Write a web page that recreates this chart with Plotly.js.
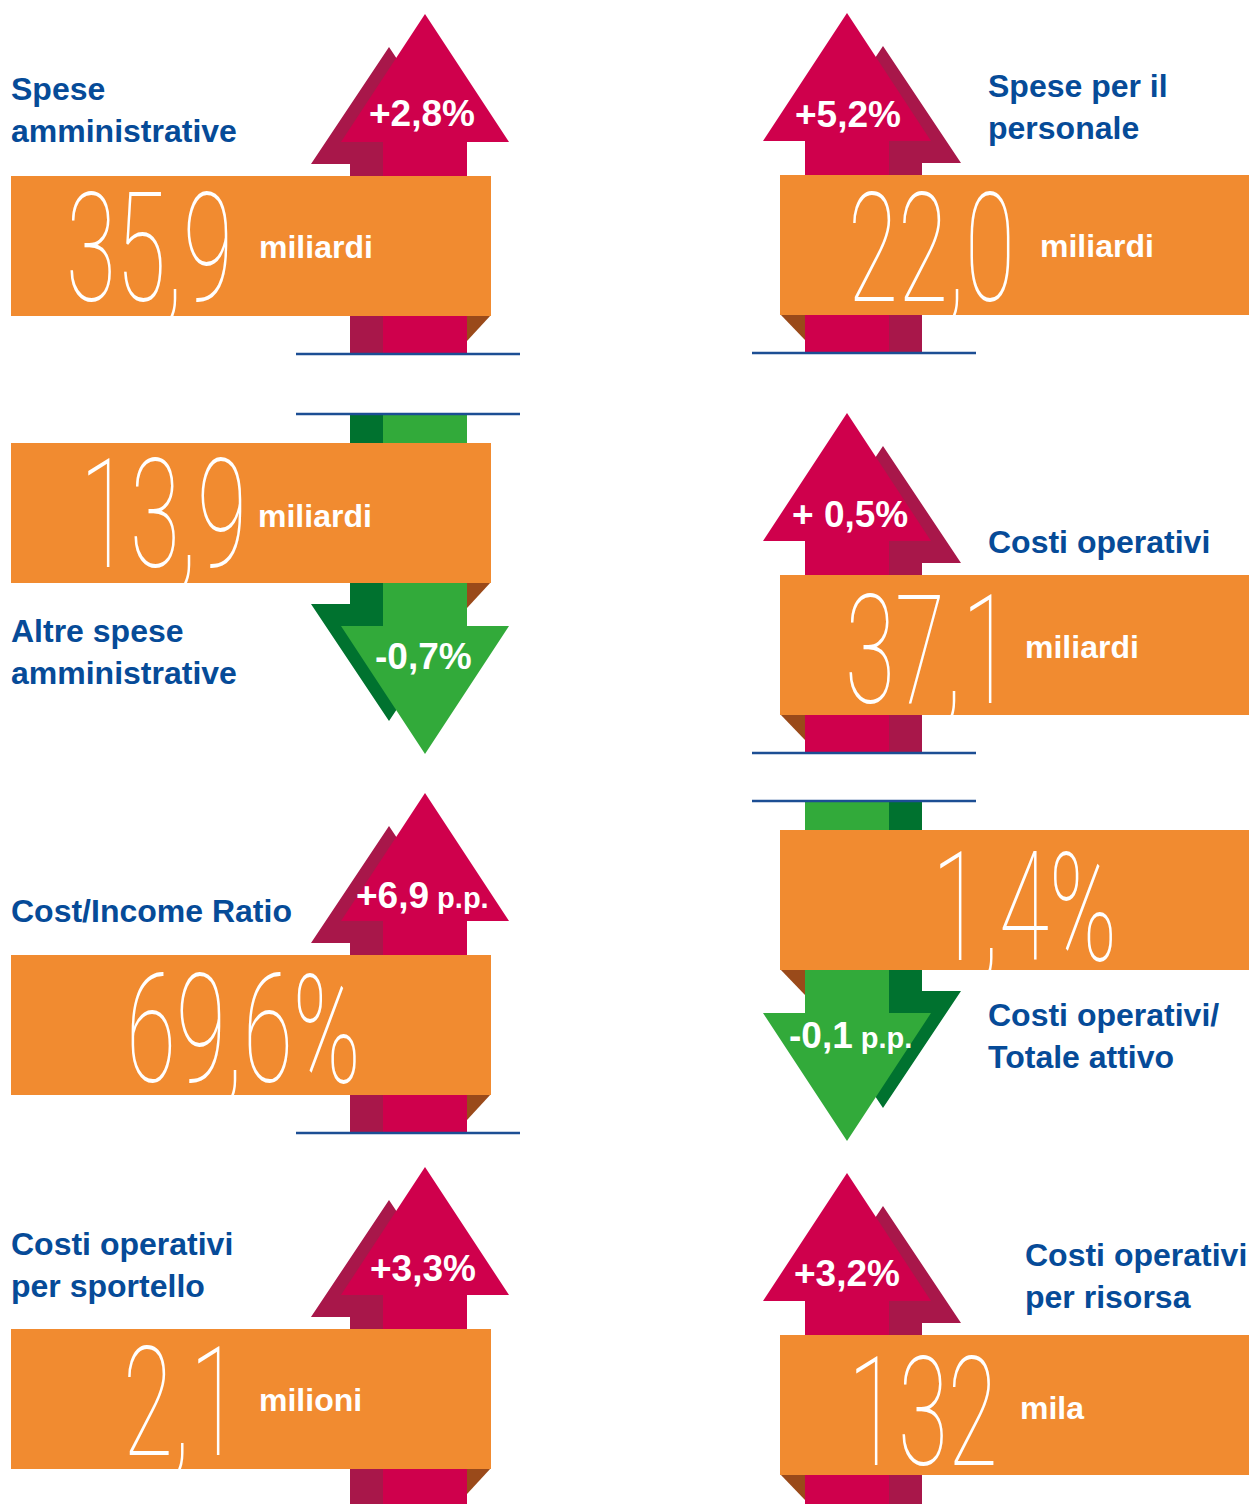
<!DOCTYPE html>
<html><head><meta charset="utf-8">
<script src="https://cdn.plot.ly/plotly-3.0.1.min.js"></script>
<style>html,body{margin:0;padding:0;background:#fff}#chart{width:1249px;height:1504px}</style>
</head><body><div id="chart"></div>
<script>
// ---------- data ----------
const labels = ["Spese<br>amministrative", "Spese per il<br>personale", "Altre spese<br>amministrative", "Costi operativi",
                "Cost/Income Ratio", "Costi operativi/<br>Totale attivo", "Costi operativi<br>per sportello", "Costi operativi<br>per risorsa"];
const values = ["35,9", "22,0", "13,9", "37,1", "69,6%", "1,4%", "2,1", "132"];
const units = ["miliardi", "miliardi", "miliardi", "miliardi", "", "", "milioni", "mila"];
const changes = ["+2,8%", "+5,2%", "-0,7%", "+ 0,5%", "+6,9", "-0,1", "+3,3%", "+3,2%"];
const changeUnits = ["", "", "", "", "p.p.", "p.p.", "", ""];
const directions = ["up", "up", "down", "up", "up", "down", "up", "up"];

// ---------- layout (positions in pixels of the 1249x1504 canvas) ----------
const side = [-1, 1, -1, 1, -1, 1, -1, 1];            // -1 left column, 1 right column
const apexY = [14, 13, 754, 413, 793, 1141, 1167, 1173];
const labelPos = [[9,110],[986,107],[9,652],[986,542],[9,911],[986,1036],[9,1265],[1023,1276]];
const valuePos = [[64,249],[846,249],[78,515],[843,651],[124,1030],[930,908],[121,1403],[846,1413]];
const unitPos = [[257,247],[1038,246],[256,516],[1023,647],null,null,[257,1400],[1018,1408]];
const changePos = [[422,113],[848,114],[423,656],[850,514],[422,895],[850,1035],[423,1268],[847,1273]];

const COL = {
  upFront: "#CF004C", upShadow: "#A8174A",
  downFront: "#32AA3A", downShadow: "#00722F",
  box: "#F18B30", fold: "#9A4A1A", line: "#1C4E94", label: "#064B98"
};

function poly(pts) { return "M" + pts.map(p => p[0] + "," + p[1]).join(" L") + " Z"; }

const shapes = [];
const annotations = [];
const bigIdx = [];

for (let i = 0; i < values.length; i++) {
  const s = side[i];
  const cx = s < 0 ? 425 : 847;
  const A = apexY[i];
  const d = directions[i] === "up" ? 1 : -1;
  const Y = o => A + d * o;
  const front = d > 0 ? COL.upFront : COL.downFront;
  const shadow = d > 0 ? COL.upShadow : COL.downShadow;

  // shadow arrow
  const sx = cx + 36 * s, sxs = cx + 33 * s;
  shapes.push({type: "path", xref: "x", yref: "y", line: {width: 0}, fillcolor: shadow,
    path: poly([[sx, Y(33)], [sx + 78, Y(150)], [sxs + 42, Y(150)], [sxs + 42, Y(340)],
                [sxs - 42, Y(340)], [sxs - 42, Y(150)], [sx - 78, Y(150)]])});
  // front arrow
  shapes.push({type: "path", xref: "x", yref: "y", line: {width: 0}, fillcolor: front,
    path: poly([[cx, Y(0)], [cx + 84, Y(128)], [cx + 42, Y(128)], [cx + 42, Y(340)],
                [cx - 42, Y(340)], [cx - 42, Y(128)], [cx - 84, Y(128)]])});
  // orange band
  const top = d > 0 ? A + 162 : A - 311;
  const bot = top + 140;
  const bx0 = s < 0 ? 11 : 780, bx1 = s < 0 ? 491 : 1249;
  const xs = cx - 42 * s, xe = s < 0 ? bx1 : bx0;
  shapes.push({type: "path", xref: "x", yref: "y", line: {width: 0}, fillcolor: COL.fold,
    path: poly([[xs, bot - 1], [xe, bot - 1], [xs, bot + 25]])});
  shapes.push({type: "rect", xref: "x", yref: "y", x0: bx0, x1: bx1, y0: top, y1: bot,
    line: {width: 0}, fillcolor: COL.box});
  // blue base line
  shapes.push({type: "line", xref: "x", yref: "y", x0: cx - 95 * s, x1: cx + 129 * s, y0: Y(340), y1: Y(340),
    line: {color: COL.line, width: 2.5}});

  // label
  annotations.push({x: labelPos[i][0], y: labelPos[i][1], xref: "x", yref: "y", xanchor: "left", yanchor: "middle",
    align: "left", showarrow: false, text: labels[i],
    font: {family: "Liberation Sans, Arial, sans-serif", size: 32, weight: "bold", color: COL.label}});
  // change
  const ctext = changes[i] + (changeUnits[i] ? "<span style='font-size:29px'> " + changeUnits[i] + "</span>" : "");
  annotations.push({x: changePos[i][0], y: changePos[i][1], xref: "x", yref: "y", xanchor: "center", yanchor: "middle",
    showarrow: false, text: ctext,
    font: {family: "Liberation Sans, Arial, sans-serif", size: 37, weight: "bold", color: "#FFFFFF"}});
  // big value
  bigIdx.push(annotations.length);
  annotations.push({x: valuePos[i][0], y: valuePos[i][1], xref: "x", yref: "y", xanchor: "left", yanchor: "middle",
    showarrow: false, text: values[i],
    font: {family: "Roboto, sans-serif", size: 152, weight: 100, color: "#FFFFFF"}});
  // unit
  if (units[i]) {
    annotations.push({x: unitPos[i][0], y: unitPos[i][1], xref: "x", yref: "y", xanchor: "left", yanchor: "middle",
      showarrow: false, text: units[i],
      font: {family: "Liberation Sans, Arial, sans-serif", size: 32, weight: "bold", color: "#FFFFFF"}});
  }
}

const layout = {
  width: 1249, height: 1504, margin: {l: 0, r: 0, t: 0, b: 0},
  paper_bgcolor: "#FFFFFF", plot_bgcolor: "#FFFFFF", showlegend: false,
  xaxis: {range: [0, 1249], visible: false, fixedrange: true},
  yaxis: {range: [1504, 0], visible: false, fixedrange: true},
  shapes: shapes, annotations: annotations
};

Plotly.newPlot("chart", [], layout, {staticPlot: true, responsive: false}).then(gd => {
  bigIdx.forEach(k => {
    const t = gd.querySelector('.annotation[data-index="' + k + '"] text');
    if (t) {
      t.style.transformBox = "fill-box";
      t.style.transformOrigin = "left center";
      t.style.transform = "scaleX(0.6)";
    }
  });
});
</script></body></html>
